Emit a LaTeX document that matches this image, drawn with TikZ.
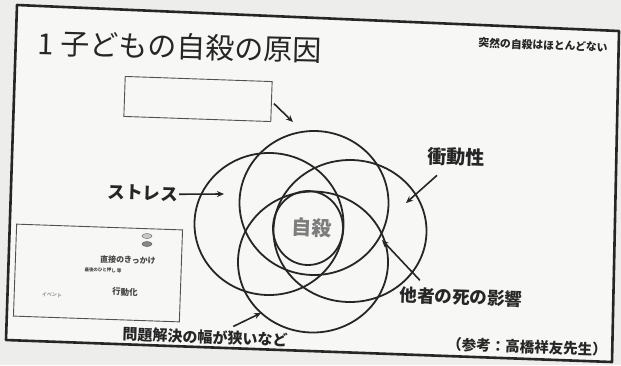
\documentclass[tikz,border=0pt]{standalone}
\usepackage{fontspec}
\newfontfamily\jp{Noto Sans CJK JP}
\usetikzlibrary{shapes.geometric,arrows.meta}
\definecolor{ink}{HTML}{262626}
\definecolor{paper}{HTML}{F7F7F5}
\definecolor{outside}{HTML}{EDEDEB}
\begin{document}
\begin{tikzpicture}[x=1pt,y=-1pt,
  circ/.style={draw=ink, line width=1.8pt, ellipse, inner sep=0pt},
  lbl/.style={font=\jp\bfseries\fontsize{#1}{#1}\selectfont, text=ink, inner sep=0pt, rotate=-2},
  small/.style={font=\jp\bfseries\fontsize{#1}{#1}\selectfont, text=ink!85, inner sep=0pt, rotate=-2},
  arr/.style={draw=ink, line width=1.6pt, -{Stealth[length=7pt,width=6pt]}},
  frameline/.style={draw=ink, line width=2.6pt, line join=round},
  boxline/.style={draw=ink!80, line width=0.9pt, inner sep=0pt, rotate=-2}]
\useasboundingbox (0,0) rectangle (621,365);
\fill[outside] (0,0) rectangle (621,365);
% slide frame
\filldraw[fill=paper, frameline] (17,5) -- (619,31) -- (612,362) -- (6,340) -- cycle;
% title and subtitle
\node[font=\jp\fontsize{29}{32}\selectfont, text=ink, inner sep=0pt, rotate=-1.5, anchor=west] (title) at (38,43) {1 子どもの自殺の原因};
\node[lbl=10.8] (sub) at (543,45) {突然の自殺はほとんどない};
% blank box
\node[boxline, draw, minimum width=147pt, minimum height=40pt] (blank) at (198,99) {};
% circles
\node[circ, minimum width=149pt, minimum height=144pt] (ctop) at (314,203) {};
\node[circ, minimum width=149pt, minimum height=142pt] (cleft) at (269,224) {};
\node[circ, minimum width=153pt, minimum height=142pt] (cright) at (350,231) {};
\node[circ, minimum width=150pt, minimum height=141pt] (cbot) at (313,262) {};
\node[circ, minimum width=70pt, minimum height=74pt] (ccen) at (308,228) {};
\node[font=\jp\bfseries\fontsize{20}{20}\selectfont, text=ink!60, inner sep=0pt, rotate=-2] (jisatsu) at (312,228) {自殺};
% labels
\node[lbl=17.5] (stress) at (143,193) {ストレス};
\node[lbl=19] (imp) at (456,157) {衝動性};
\node[lbl=17.5] (other) at (461,297) {他者の死の影響};
\node[lbl=15] (prob) at (205,337) {問題解決の幅が狭いなど};
\node[lbl=14.5] (ref) at (527,347) {（参考：高橋祥友先生）};
% arrow tips
\coordinate (tB) at (293,122);
\coordinate (tS) at (224,194);
\coordinate (tI) at (406,203);
\coordinate (tO) at (382,240);
\coordinate (tP) at (261,313);
\draw[arr] ([xshift=2pt,yshift=-2pt]blank.east) -- (tB);
\draw[arr] ([xshift=1pt]stress.east) -- (tS);
\draw[arr] ([xshift=10pt,yshift=-10pt]imp.south west) -- (tI);
\draw[arr] ([xshift=20pt,yshift=6pt]other.north west) -- (tO);
\draw[arr] ([xshift=28pt,yshift=3pt]prob.north) -- (tP);
% inset box
\node[boxline, draw, minimum width=166pt, minimum height=92pt] (inset) at (98,273) {};
\node[draw=ink!60, fill=ink!25, line width=0.6pt, ellipse, minimum width=10pt, minimum height=5pt, inner sep=0pt] (ico1) at (147,236) {};
\node[draw=ink!70, fill=ink!55, line width=0.6pt, ellipse, minimum width=10pt, minimum height=5pt, inner sep=0pt] (ico2) at (147,244) {};
\node[small=8] (trig) at (128,260) {直接のきっかけ};
\node[small=4.5] (tiny) at (103,270) {最後のひと押し 等};
\node[small=8.5] (act) at (125,292) {行動化};
\node[small=5, text=ink!45] (faint) at (52,295) {イベント};
\end{tikzpicture}
\end{document}
